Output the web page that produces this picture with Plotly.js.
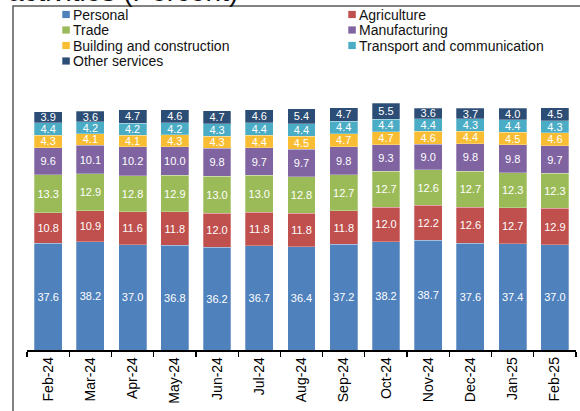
<!DOCTYPE html>
<html>
<head>
<meta charset="utf-8">
<script src="https://cdn.plot.ly/plotly-3.0.1.min.js"></script>
<style>html,body{margin:0;padding:0;background:#fff;}#chart{width:580px;height:411px;}</style>
</head>
<body>
<div id="chart"></div>
<script>
const months = ["Feb-24","Mar-24","Apr-24","May-24","Jun-24","Jul-24","Aug-24","Sep-24","Oct-24","Nov-24","Dec-24","Jan-25","Feb-25"];
const seriesNames = ["Personal","Agriculture","Trade","Manufacturing","Building and construction","Transport and communication","Other services"];
const personal      = [37.6,38.2,37.0,36.8,36.2,36.7,36.4,37.2,38.2,38.7,37.6,37.4,37.0];
const agriculture   = [10.8,10.9,11.6,11.8,12.0,11.8,11.8,11.8,12.0,12.2,12.6,12.7,12.9];
const trade         = [13.3,12.9,12.8,12.9,13.0,13.0,12.8,12.7,12.7,12.6,12.7,12.3,12.3];
const manufacturing = [9.6,10.1,10.2,10.0,9.8,9.7,9.7,9.8,9.3,9.0,9.8,9.8,9.7];
const building      = [4.3,4.1,4.1,4.3,4.3,4.4,4.5,4.7,4.7,4.6,4.4,4.5,4.6];
const transport     = [4.4,4.2,4.2,4.2,4.3,4.4,4.4,4.4,4.4,4.4,4.3,4.4,4.3];
const otherServices = [3.9,3.6,4.7,4.6,4.7,4.6,5.4,4.7,5.5,3.6,3.7,4.0,4.5];
const seriesValues = [personal, agriculture, trade, manufacturing, building, transport, otherServices];
const colors = ["#4F81BD","#C0504D","#9BBB59","#8064A2","#F8BD33","#4BACC6","#2C4D75"];

const W = 580, H = 411;
const M = {l:27, r:4, t:70, b:61};
const pw = W - M.l - M.r, ph = H - M.t - M.b;
const px2x = p => (p - M.l) / pw;
const px2y = p => (H - M.b - p) / ph;

const traces = seriesNames.map((name, i) => ({
  type: 'bar',
  name: name,
  x: months,
  y: seriesValues[i],
  text: seriesValues[i].map(v => v.toFixed(1)),
  textposition: 'inside',
  insidetextanchor: 'middle',
  textangle: 0,
  constraintext: 'none',
  textfont: {color: '#ffffff', size: 11, family: 'Arial, Liberation Sans, sans-serif'},
  marker: {color: colors[i], line: {color: 'rgba(255,255,255,0.35)', width: 0.8}},
  showlegend: false,
  hoverinfo: 'skip'
}));

// custom legend: two columns
const legCols = [62.3, 348.3];
const legRows = [14.5, 30, 45.5, 61];
const shapes = [];
const annotations = [];
seriesNames.forEach((name, i) => {
  const col = i % 2, row = Math.floor(i / 2);
  const x0 = legCols[col], yc = legRows[row];
  shapes.push({type:'rect', xref:'paper', yref:'paper',
    x0: px2x(x0), x1: px2x(x0 + 7.5), y0: px2y(yc + 3.6), y1: px2y(yc - 3.6),
    fillcolor: colors[i], line: {width: 0}});
  annotations.push({xref:'paper', yref:'paper', x: px2x(x0 + 8.5), y: px2y(yc),
    xanchor:'left', yanchor:'middle', showarrow:false, text: name,
    font:{size:14, color:'#111', family:'Arial, Liberation Sans, sans-serif'}});
});
// frame
shapes.push({type:'rect', xref:'paper', yref:'paper', layer:'below',
  x0: px2x(13), x1: px2x(W + 20), y0: px2y(H + 20), y1: px2y(6),
  fillcolor:'rgba(0,0,0,0)', line:{color:'#5a5a5a', width:1.5}});
// title (cropped at top)
annotations.push({xref:'paper', yref:'paper', x: px2x(240), y: px2y(9),
  xanchor:'right', yanchor:'bottom', showarrow:false, text:'activities (Percent)',
  font:{size:28, color:'#111', family:'Arial, Liberation Sans, sans-serif'}});

const layout = {
  width: W, height: H,
  margin: M,
  paper_bgcolor: '#ffffff', plot_bgcolor: '#ffffff',
  barmode: 'stack',
  bargap: 0.34,
  showlegend: false,
  uniformtext: {mode: 'show', minsize: 11},
  xaxis: {
    type: 'category', range: [-0.5, 12.5],
    tickangle: -90, ticks: 'outside', tickson: 'boundaries', ticklen: 5, tickcolor: '#000', tickwidth: 1.2,
    showline: true, linecolor: '#000', linewidth: 1.5,
    showgrid: false, zeroline: false,
    tickfont: {size: 14, color: '#000', family: 'Arial, Liberation Sans, sans-serif'}
  },
  yaxis: {
    range: [0, ph / 2.84], visible: false, showgrid: false, zeroline: false, fixedrange: true
  },
  shapes: shapes,
  annotations: annotations
};

Plotly.newPlot('chart', traces, layout, {staticPlot: true, displayModeBar: false});
</script>
</body>
</html>
